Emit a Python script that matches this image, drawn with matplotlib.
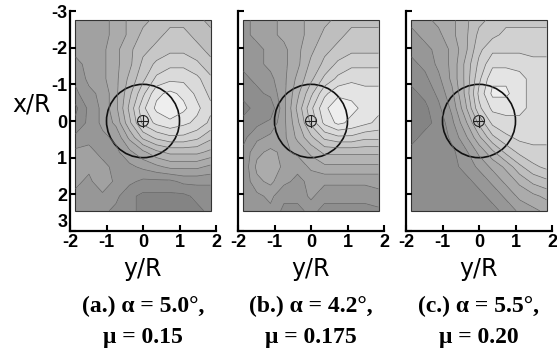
"""Three contour panels: x/R vs y/R, alpha/mu cases"""
import numpy as np
import matplotlib
matplotlib.use("Agg")
import matplotlib.pyplot as plt
from matplotlib.patches import Circle, Rectangle

# ── grid (measurement plane) ──
y_cols = np.linspace(-1.85, 1.85, 11)     # y/R, horizontal
x_rows = np.linspace(-2.75, 2.45, 14)     # x/R, vertical (down = +)

# ── contour values (0 dark .. 14 light), rows top->bottom ──
field_a = np.array([
    [5, 5, 5.5, 6, 7, 7.5, 8, 8.5, 8.5, 8, 7.5],
    [5, 5, 5.5, 6, 7, 8, 8.5, 9, 9, 8.5, 8],
    [5, 5, 5.5, 6.5, 7.5, 8.5, 9, 9.5, 9.5, 9, 8.5],
    [4.5, 5, 5.5, 6.5, 7.5, 9, 10, 10.5, 10.5, 10, 9],
    [4, 5, 5.5, 6.5, 8, 9.5, 11, 11.5, 11.5, 11, 10],
    [3.5, 4.5, 5, 6.5, 8.5, 10.5, 12.5, 13, 12.5, 11.5, 10.5],
    [2.5, 4, 5, 6.5, 9, 11.5, 13, 13.5, 13, 12, 11],
    [3, 4, 5, 6, 8.5, 11, 12, 12.5, 12, 11.5, 10.5],
    [4, 4.5, 4.5, 5, 7, 9, 10, 10.5, 10.5, 10, 9],
    [5, 5, 4.5, 4.5, 5.5, 6.5, 7.5, 8, 8, 8, 7.5],
    [5.5, 5, 5, 4.5, 4.5, 5, 5.5, 6, 6, 6, 5.5],
    [5, 4.5, 5.5, 4.5, 4, 3.5, 3.5, 3.5, 4, 4, 4],
    [4.5, 4.5, 4.5, 4, 3, 2.5, 2.5, 2.5, 2.5, 3, 3],
    [4.5, 4, 4, 3.5, 3, 2.5, 2.5, 2.5, 2.5, 2.5, 3],
])
field_b = np.array([
    [4.5, 5, 5.5, 6, 6.5, 7, 7.5, 8, 8.5, 8.5, 8.5],
    [4.5, 5, 5.5, 6, 6.5, 7, 8, 8.5, 9, 9, 9],
    [4.5, 4.5, 5, 5.5, 6.5, 7.5, 8.5, 9, 9.5, 9.5, 9.5],
    [4, 4.5, 5, 5.5, 6.5, 8, 9, 10, 10.5, 10.5, 10.5],
    [3.5, 4, 4.5, 5.5, 7, 8.5, 10, 11, 11.5, 11.5, 11.5],
    [3, 3.5, 4, 5.5, 7.5, 9.5, 11.5, 12.5, 12.5, 12, 12],
    [2.5, 3, 3, 5.5, 8, 10.5, 12.5, 13.5, 13, 12.5, 12],
    [3, 3.5, 4, 5.5, 7.5, 10, 12, 13, 12.5, 12, 11.5],
    [3.5, 4.5, 5, 5.5, 7, 8.5, 10, 10.5, 10.5, 10, 10],
    [4, 5.5, 6, 5.5, 6, 7, 8, 8, 8, 8, 8],
    [4, 6, 6.5, 5.5, 5, 6, 6.5, 6.5, 6.5, 6.5, 6.5],
    [4, 5.5, 6, 5, 4.5, 5, 5, 5, 5, 5, 5],
    [4, 4.5, 5, 4, 4, 5, 4, 4, 4, 4, 4.5],
    [4, 4, 4.5, 3.5, 3.5, 4, 3.5, 3.5, 3.5, 3.5, 3.5],
])
field_c = np.array([
    [5, 5.5, 6, 6.5, 7.5, 8.5, 9, 9.5, 9.5, 9.5, 9.5],
    [4.5, 5, 5.5, 6.5, 7.5, 9, 9.5, 10, 10, 10, 10],
    [4, 4.5, 5, 6, 7.5, 9.5, 10.5, 10.5, 10.5, 10.5, 10.5],
    [3.5, 4, 5, 6, 8, 10, 11.5, 11.5, 11.5, 11, 11],
    [3, 3.5, 4.5, 6, 8, 10.5, 12.5, 12.5, 12, 11.5, 11],
    [2.5, 3, 4, 5.5, 8, 11, 13, 13, 12, 11.5, 11],
    [2, 2.5, 3.5, 5, 7.5, 10.5, 12, 12, 12, 11.5, 11],
    [2, 2.5, 3, 4.5, 6.5, 9, 11, 11.5, 11.5, 11.5, 11],
    [2.5, 3, 3, 4, 5.5, 7.5, 9.5, 10.5, 11, 11, 11],
    [3, 3, 3, 3.5, 4.5, 6, 7.5, 9, 10, 10.5, 10.5],
    [3, 3.5, 3, 3.5, 4, 5, 6, 7, 8.5, 9.5, 10],
    [3, 3, 3, 3, 3.5, 4, 5, 6, 7, 8, 8.5],
    [3, 3, 3, 3, 3, 3.5, 4, 5, 6, 6.5, 7],
    [3, 3, 3, 3, 3, 3, 3.5, 4, 5, 5.5, 6],
])
fields = [field_a, field_b, field_c]
cap_line1 = ["(a.) α = 5.0°,", "(b.) α = 4.2°,", "(c.) α = 5.5°,"]
cap_line2 = ["μ = 0.15", "μ = 0.175", "μ = 0.20"]
yticks = [-3, -2, -1, 0, 1, 2, 3]
xticks = [-2, -1, 0, 1, 2]

W, H = 557, 353
fig = plt.figure(figsize=(W / 100, H / 100), dpi=100)

lefts = [70, 238, 406]
levels = np.arange(1.75, 14.0, 1.0)
cmap = matplotlib.colors.LinearSegmentedColormap.from_list(
    "g", [(0.50, 0.50, 0.50), (0.95, 0.95, 0.95)])
norm = matplotlib.colors.Normalize(vmin=1.75, vmax=13.75)

YY, XX = np.meshgrid(y_cols, x_rows)
for i, (lp, fld) in enumerate(zip(lefts, fields)):
    ax = fig.add_axes([lp / W, 1 - 231 / H, 146 / W, 220 / H])
    ax.contourf(YY, XX, fld, levels=levels, cmap=cmap, norm=norm,
                extend="both")
    ax.contour(YY, XX, fld, levels=levels, colors="#666666", linewidths=0.5)
    ax.add_patch(Rectangle((y_cols[0], x_rows[0]), y_cols[-1] - y_cols[0],
                           x_rows[-1] - x_rows[0], fill=False,
                           ec="#333333", lw=0.8))
    ax.add_patch(Circle((0, 0), 1.0, fill=False, ec="#111111", lw=1.2))
    ax.add_patch(Circle((0, 0), 0.15, fill=False, ec="#222222", lw=0.8))
    ax.plot([-0.15, 0.15], [0, 0], color="#222222", lw=0.8)
    ax.plot([0, 0], [-0.15, 0.15], color="#222222", lw=0.8)

    ax.set_xlim(-2, 2)
    ax.set_ylim(3, -3)
    for s in ["top", "right"]:
        ax.spines[s].set_visible(False)
    for s in ["left", "bottom"]:
        ax.spines[s].set_linewidth(1.6)
    ax.set_xticks(xticks)
    ax.set_yticks(yticks)
    ax.tick_params(direction="in", length=4, width=1.5, pad=2)
    ax.set_xticklabels([str(t) for t in xticks], fontweight="bold",
                       fontsize=13, family="Liberation Sans")
    if i == 0:
        labs = ax.set_yticklabels([str(t) for t in yticks], fontweight="bold",
                                  fontsize=13, family="Liberation Sans")
        labs[-1].set_va("bottom")
    else:
        ax.set_yticklabels([])

    cx = (lp + 73) / W
    fig.text(cx, 1 - 269 / H, "y/R", ha="center", va="center",
             fontsize=17, family="DejaVu Sans")
    fig.text(cx, 1 - 306 / H, cap_line1[i], ha="center", va="center",
             fontsize=17, fontweight="bold", family="Liberation Serif")
    fig.text(cx, 1 - 337 / H, cap_line2[i], ha="center", va="center",
             fontsize=17, fontweight="bold", family="Liberation Serif")

fig.text(32 / W, 1 - 104 / H, "x/R", ha="center", va="center",
         fontsize=17, family="DejaVu Sans")

fig.savefig("out.png", dpi=100)
